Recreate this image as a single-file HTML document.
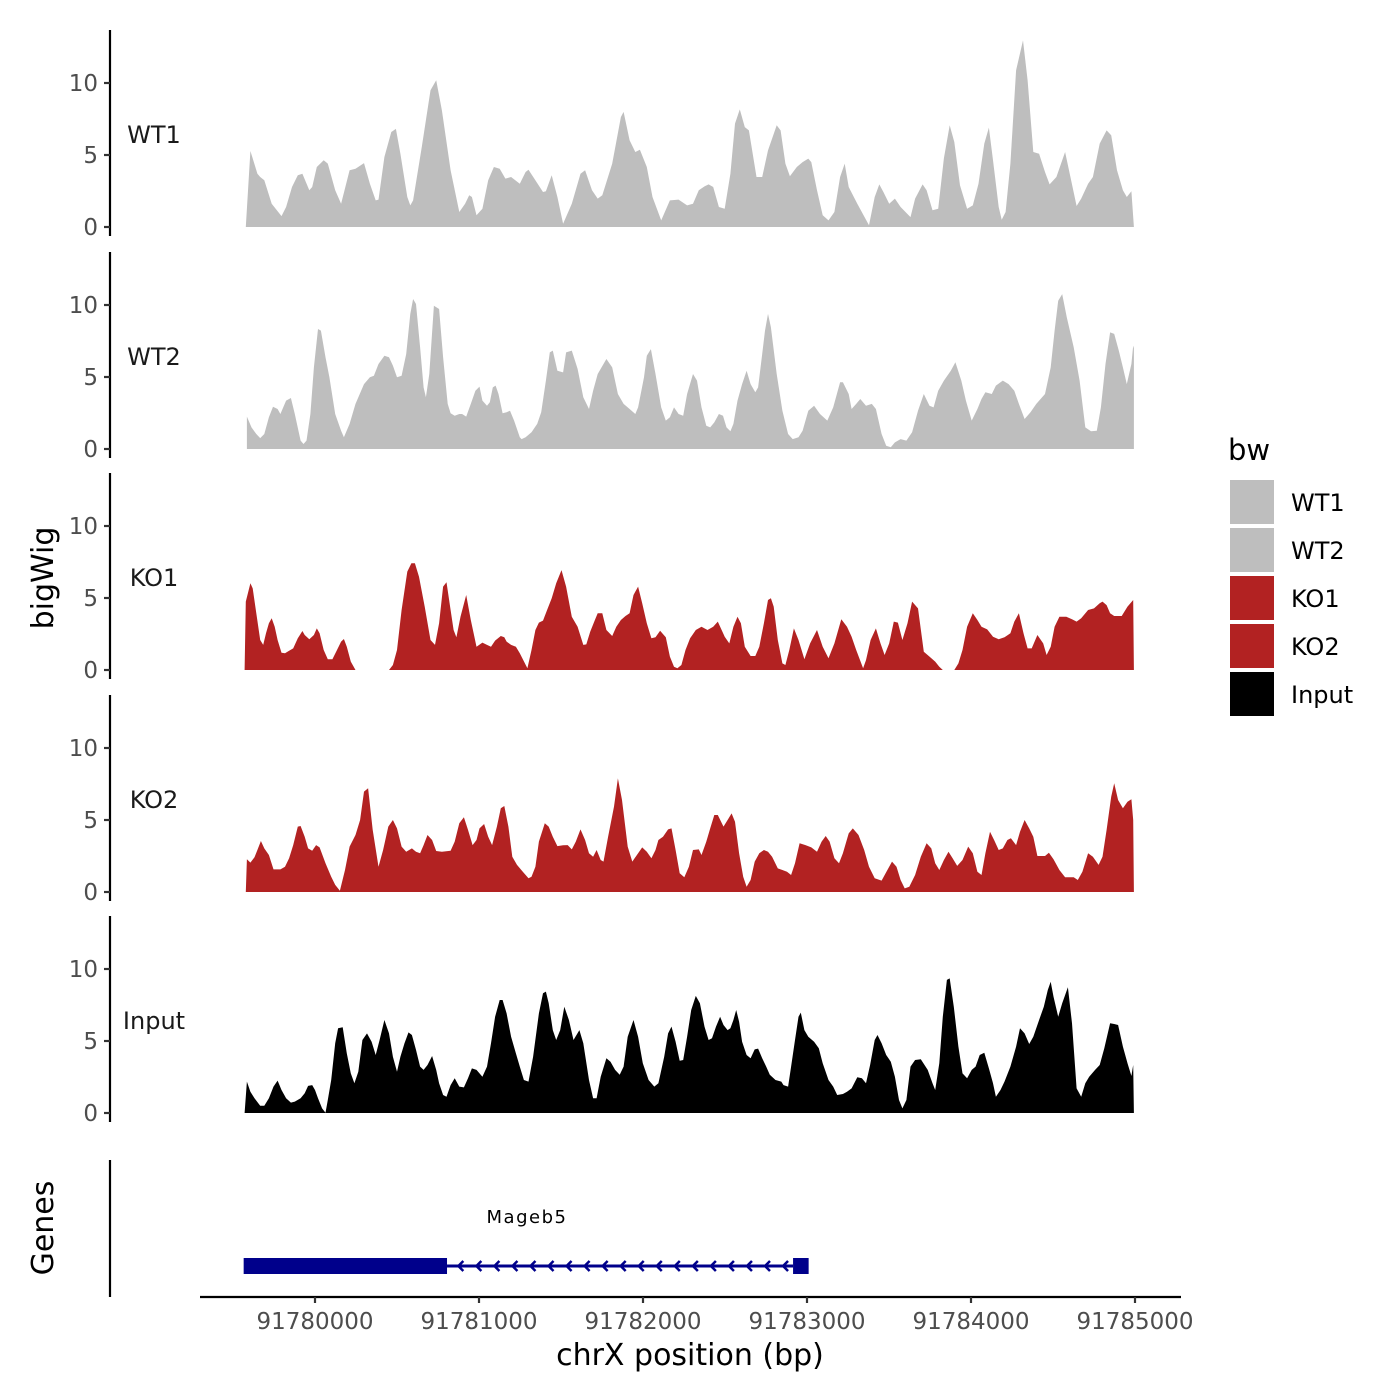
<!DOCTYPE html>
<html><head><meta charset="utf-8"><style>
html,body{margin:0;padding:0;background:#fff;}
svg{display:block;font-family:"DejaVu Sans","Liberation Sans",sans-serif;}
</style></head><body>
<svg id="chart" xmlns="http://www.w3.org/2000/svg" width="1400" height="1400" viewBox="0 0 1400 1400">
<rect x="0" y="0" width="1400" height="1400" fill="#fff"/>
<g id="panels"></g>
<text transform="translate(53,578) rotate(-90)" text-anchor="middle" font-size="30" fill="#000">bigWig</text>
<text transform="translate(53,1228) rotate(-90)" text-anchor="middle" font-size="30" fill="#000">Genes</text>
<line x1="110" y1="1160" x2="110" y2="1297" stroke="#000" stroke-width="2.2"/>
<g id="gene"></g>
<g id="xaxis"></g>
<text x="690" y="1365" text-anchor="middle" font-size="30" fill="#000">chrX position (bp)</text>
<g id="legend">
<text x="1228" y="460" font-size="29" fill="#000">bw</text>
</g>
</svg>
<script>
const base = 91779543;
const sampleNames = ["WT1","WT2","KO1","KO2","Input"];
const sampleColors = ["#BEBEBE","#BEBEBE","#B22222","#B22222","#000000"];
const yTicks = [0,5,10];
const xTicks = [91780000,91781000,91782000,91783000,91784000,91785000];

const wt1Pos = [35,63,106,123,148,193,253,281,317,352,380,422,440,468,510,535,580,616,668,704,756,792,827,844,880,922,950,978,1020,1038,1055,1108,1161,1196,1231,1284,1337,1372,1397,1414,1442,1478,1513,1548,1583,1618,1653,1706,1741,1759,1794,1847,1865,1900,1935,1970,2023,2076,2104,2146,2181,2209,2269,2322,2339,2375,2410,2438,2480,2515,2568,2621,2674,2726,2762,2797,2832,2857,2885,2920,2955,2990,3018,3047,3078,3103,3149,3184,3219,3272,3296,3325,3353,3395,3430,3465,3483,3518,3553,3588,3624,3659,3687,3711,3764,3835,3870,3898,3923,3958,3993,4028,4088,4116,4162,4186,4222,4257,4292,4327,4355,4390,4433,4468,4503,4538,4566,4591,4626,4644,4668,4697,4732,4774,4802,4837,4872,4908,4936,4978,5031,5101,5129,5171,5200,5242,5284,5312,5347,5383,5407,5435,5450];
const wt1Val = [0,5.28,3.70,3.47,3.24,1.62,0.76,1.39,2.78,3.59,3.70,2.55,2.78,4.17,4.63,4.40,2.55,1.62,3.94,4.05,4.44,3.01,1.85,1.90,4.86,6.60,6.81,5.09,2.08,1.50,1.85,5.56,9.49,10.19,8.10,3.94,1.04,1.62,2.20,2.08,0.81,1.27,3.24,4.17,4.05,3.36,3.47,3.01,3.82,3.98,3.36,2.43,2.48,3.59,2.08,0.23,1.62,3.70,3.94,2.55,1.97,2.20,4.40,7.64,7.99,6.02,5.21,5.37,4.17,2.08,0.46,1.85,1.90,1.50,1.62,2.55,2.82,2.96,2.78,1.39,1.27,3.70,7.18,8.17,6.94,6.71,3.47,3.47,5.32,7.06,6.71,4.40,3.52,4.17,4.51,4.75,4.51,2.55,0.81,0.46,1.04,3.47,4.40,2.78,1.62,0.12,2.08,2.96,2.43,1.62,1.97,1.39,0.69,1.97,2.96,2.55,1.16,1.27,4.77,7.06,5.90,2.89,1.27,1.50,3.01,5.79,6.90,4.63,1.39,0.51,1.04,4.40,10.88,12.96,10.19,5.21,5.09,3.82,2.96,3.47,5.21,1.46,1.97,3.01,3.47,5.79,6.71,6.37,3.94,2.55,2.08,2.48,0];

const wt2Pos = [42,70,99,123,148,176,201,229,246,281,310,334,369,387,405,429,450,475,493,521,545,580,616,633,668,704,756,792,816,844,880,908,932,957,985,1013,1038,1055,1073,1098,1119,1133,1154,1182,1214,1238,1266,1284,1309,1337,1354,1379,1407,1435,1460,1478,1506,1523,1541,1558,1576,1601,1625,1646,1671,1706,1717,1741,1777,1812,1836,1865,1889,1907,1935,1970,1988,2023,2058,2093,2128,2153,2181,2234,2269,2304,2339,2375,2410,2427,2463,2480,2505,2533,2568,2596,2621,2646,2674,2702,2726,2762,2786,2814,2843,2867,2892,2920,2945,2966,2990,3008,3033,3061,3089,3113,3142,3159,3184,3201,3219,3237,3272,3307,3342,3370,3405,3430,3465,3500,3536,3581,3617,3659,3676,3711,3729,3757,3782,3817,3852,3877,3912,3940,3968,3993,4028,4063,4098,4134,4169,4204,4229,4257,4292,4334,4362,4398,4426,4461,4496,4521,4545,4584,4609,4651,4686,4721,4749,4784,4820,4855,4908,4943,4967,4989,5013,5041,5083,5119,5154,5189,5224,5249,5277,5305,5330,5358,5383,5407,5435,5446,5450];
const wt2Val = [2.25,1.50,1.04,0.76,1.04,2.20,2.94,2.78,2.43,3.36,3.54,2.43,0.58,0.35,0.58,2.43,5.67,8.33,8.22,6.37,4.98,2.43,1.27,0.81,1.74,3.13,4.51,4.98,5.09,5.90,6.48,6.37,5.79,4.98,5.09,6.60,9.38,10.42,10.07,7.06,4.28,3.59,5.21,9.95,9.72,6.37,3.13,2.48,2.31,2.43,2.43,2.25,3.13,4.05,4.33,3.36,3.01,3.24,4.28,4.40,3.82,2.48,2.55,2.66,1.97,0.81,0.69,0.81,1.16,1.74,2.55,4.75,6.71,6.83,5.44,5.32,6.71,6.83,5.56,3.59,2.78,4.05,5.21,6.25,5.67,3.82,3.13,2.78,2.43,2.89,4.98,6.48,6.94,5.21,2.89,1.97,2.20,2.89,2.43,2.31,3.82,5.21,4.75,2.89,1.62,1.50,1.85,2.43,2.31,1.50,1.23,1.74,3.36,4.51,5.44,4.51,3.94,4.28,6.60,8.22,9.38,8.45,5.21,2.66,1.04,0.69,0.81,1.27,2.66,3.01,2.43,1.97,2.89,4.63,4.63,3.82,2.78,3.13,3.47,3.01,3.13,2.78,1.04,0.23,0.12,0.46,0.69,0.58,1.16,2.66,3.82,3.01,2.89,4.05,4.75,5.44,6.02,4.75,3.36,1.97,2.78,3.47,3.94,3.82,4.40,4.75,4.51,4.05,3.13,2.08,2.55,3.13,3.82,5.67,8.22,10.30,10.76,9.14,7.06,4.75,1.50,1.23,1.27,2.89,5.90,8.10,7.99,6.83,5.67,4.51,5.90,7.18,7.0,0];

const ko1Pos = [28,35,63,77,99,123,141,158,176,193,211,229,253,274,299,324,352,380,394,422,450,468,485,510,535,563,591,616,633,651,675,704,null,908,932,957,985,1020,1045,1066,1091,1126,1161,1189,1214,1238,1259,1284,1302,1319,1344,1379,1407,1442,1478,1506,1530,1555,1590,1611,1625,1653,1682,1706,1752,1777,1801,1822,1847,1872,1900,1928,1960,1988,2023,2058,2093,2111,2135,2164,2181,2209,2234,2269,2294,2322,2350,2375,2399,2427,2452,2480,2508,2533,2561,2596,2621,2646,2667,2691,2716,2744,2779,2814,2850,2885,2913,2955,2983,3008,3033,3054,3078,3113,3142,3166,3194,3219,3237,3254,3279,3307,3325,3349,3377,3405,3441,3476,3518,3553,3588,3624,3666,3701,3729,3757,3799,3817,3845,3877,3905,3930,3958,3986,4011,4039,4070,4098,4134,4169,4204,4239,4264,4285,null,4355,4380,4405,4433,4468,4496,4521,4556,4591,4626,4661,4697,4721,4749,4777,4802,4827,4862,4897,4918,4943,4967,4996,5038,5073,5101,5129,5171,5207,5242,5259,5284,5305,5330,5376,5411,5446,5450];
const ko1Val = [0,4.75,6.02,5.67,3.94,2.08,1.74,2.55,3.24,3.59,3.01,2.08,1.20,1.16,1.34,1.50,2.20,2.71,2.43,2.13,2.43,2.89,2.55,1.39,0.74,0.74,1.39,1.97,2.15,1.62,0.58,0,null,0,0.35,1.39,4.17,6.83,7.41,7.41,6.48,4.40,2.08,1.74,3.24,5.79,6.09,4.17,2.78,2.27,3.70,5.21,3.47,1.62,1.90,1.74,1.62,2.04,2.36,2.27,1.97,1.74,1.62,1.16,0.12,1.39,2.78,3.29,3.43,4.17,4.98,6.02,6.94,5.79,3.70,3.01,1.74,1.78,2.66,3.47,3.94,3.94,2.78,2.36,3.01,3.47,3.75,3.94,5.21,5.79,4.63,3.24,2.20,2.27,2.73,2.27,0.93,0.23,0.12,0.35,1.39,2.20,2.78,3.01,2.78,3.01,3.36,2.31,1.85,3.01,3.70,3.24,1.62,0.97,0.97,1.62,3.24,4.86,4.98,4.40,2.08,0.46,0.35,1.39,2.89,2.08,0.74,1.85,2.78,1.62,0.81,1.85,3.52,3.01,2.31,1.39,0.12,0.69,2.08,2.89,1.85,1.04,1.85,3.36,3.29,2.08,3.24,4.75,4.28,1.27,0.93,0.58,0.23,0,null,0,0.46,1.39,3.01,3.94,3.47,3.01,2.82,2.31,2.13,2.27,2.55,3.36,3.94,2.55,1.50,1.50,2.43,1.85,1.04,1.62,3.01,3.70,3.70,3.52,3.36,3.59,4.17,4.28,4.63,4.75,4.51,3.94,3.75,3.75,4.40,4.86,0];

const ko2Pos = [35,42,63,88,106,127,148,176,204,246,274,299,324,352,369,394,415,440,464,485,521,556,580,609,640,668,704,732,756,781,809,844,872,904,932,957,985,1013,1048,1073,1098,1119,1143,1171,1196,1231,1284,1309,1337,1365,1390,1418,1442,1460,1488,1513,1537,1566,1590,1611,1636,1660,1689,1724,1759,1777,1801,1822,1858,1882,1907,1935,1970,1998,2023,2047,2076,2104,2128,2153,2174,2199,2216,2244,2280,2304,2329,2364,2392,2420,2452,2480,2508,2533,2551,2579,2610,2631,2656,2681,2709,2737,2762,2797,2814,2843,2867,2892,2913,2948,2973,2997,3018,3043,3068,3089,3113,3138,3166,3194,3219,3244,3279,3307,3335,3360,3384,3412,3448,3483,3518,3546,3571,3595,3624,3652,3676,3711,3736,3771,3806,3835,3870,3912,3947,3975,4003,4028,4053,4081,4116,4151,4186,4215,4239,4264,4292,4320,4345,4373,4405,4440,4468,4496,4521,4545,4573,4598,4626,4651,4679,4700,4732,4756,4784,4812,4837,4862,4908,4932,4960,4996,5031,5083,5108,5136,5171,5200,5235,5259,5284,5312,5330,5354,5383,5411,5435,5446,5450];
const ko2Val = [0,2.27,2.04,2.41,2.92,3.54,3.03,2.57,1.57,1.57,1.76,2.34,3.26,4.54,4.58,3.84,3.03,2.87,3.26,3.10,1.99,1.06,0.49,0.09,1.53,3.15,3.96,5.00,6.97,7.20,4.31,1.76,2.92,4.54,5.00,4.42,3.15,2.80,3.03,2.80,2.69,3.26,3.96,3.61,2.85,2.80,2.87,3.50,4.77,5.19,4.31,3.26,3.61,4.42,4.72,3.84,3.26,4.54,5.81,5.97,4.54,2.45,1.88,1.41,0.95,1.06,1.76,3.50,4.77,4.54,3.84,3.19,3.24,3.26,2.96,3.50,4.35,3.61,2.69,2.45,2.92,2.22,2.11,3.84,5.93,7.89,6.39,3.15,2.11,2.57,3.10,2.80,2.34,2.92,3.61,3.84,4.35,4.42,2.92,1.30,1.02,1.76,2.92,2.96,2.57,3.50,4.42,5.35,5.35,4.54,5.00,5.46,4.88,2.69,1.06,0.37,0.83,2.11,2.69,2.92,2.80,2.45,1.64,1.53,1.41,1.18,1.99,3.38,3.26,3.10,2.80,3.50,3.89,3.50,2.34,1.99,2.69,4.07,4.42,3.96,2.92,1.76,0.95,0.79,1.53,2.11,1.76,0.83,0.25,0.37,1.18,2.45,3.38,3.03,1.99,1.53,2.22,2.80,2.34,1.81,2.22,3.15,2.69,1.41,1.18,2.69,4.19,3.61,2.92,3.03,3.61,3.73,3.26,4.19,5.00,4.42,3.84,2.50,2.50,2.73,2.27,1.53,1.02,1.02,0.83,1.41,2.69,2.45,1.88,2.45,4.31,6.62,7.55,6.39,5.81,6.27,6.44,5.00,0];

const inputPos = [28,42,63,88,123,148,176,204,229,253,281,310,334,369,394,415,440,457,475,500,521,535,556,580,598,626,651,675,697,721,746,774,802,827,851,880,908,932,957,978,1003,1027,1048,1073,1098,1119,1143,1171,1196,1214,1238,1259,1284,1309,1337,1365,1390,1414,1442,1478,1506,1530,1555,1583,1601,1625,1653,1682,1706,1731,1759,1787,1822,1847,1865,1882,1907,1928,1952,1977,2005,2033,2069,2093,2128,2153,2174,2199,2234,2259,2287,2315,2339,2364,2399,2427,2456,2491,2526,2551,2586,2610,2631,2656,2681,2702,2726,2751,2779,2804,2832,2857,2878,2902,2927,2948,2973,2990,3008,3025,3043,3061,3089,3113,3138,3159,3184,3208,3230,3265,3300,3314,3342,3360,3384,3405,3419,3441,3465,3500,3529,3553,3588,3617,3641,3676,3701,3729,3764,3792,3817,3842,3870,3887,3912,3940,3968,3993,4018,4039,4063,4088,4116,4151,4193,4222,4239,4264,4285,4310,4327,4352,4380,4405,4433,4461,4485,4510,4538,4566,4591,4609,4637,4661,4697,4732,4756,4784,4812,4837,4872,4901,4925,4943,4960,4989,5013,5048,5073,5101,5129,5154,5178,5214,5242,5270,5305,5330,5354,5383,5411,5435,5446,5450];
const inputVal = [0,2.18,1.48,1.02,0.51,0.51,1.02,1.83,2.25,1.60,1.02,0.72,0.79,1.02,1.37,1.88,1.94,1.60,1.02,0.32,0.02,0.90,2.29,4.84,5.88,5.95,4.14,2.75,2.06,2.87,5.07,5.53,4.95,4.03,5.07,6.46,5.53,3.91,2.87,3.91,4.84,5.60,5.42,4.38,3.22,2.99,3.33,3.96,2.99,2.06,1.25,1.13,1.94,2.41,1.83,1.78,2.41,3.10,2.99,2.52,3.22,4.84,6.69,7.85,7.85,6.92,5.30,4.14,3.22,2.29,2.18,3.91,6.92,8.31,8.43,7.62,5.76,5.07,5.76,7.38,6.46,5.07,5.76,4.84,2.29,1.02,1.02,2.52,3.80,3.56,2.99,2.66,3.22,5.30,6.46,5.30,3.45,2.29,1.83,2.06,3.91,5.53,6.00,4.95,3.63,3.68,5.30,7.15,8.13,7.62,6.00,5.07,5.19,6.00,6.69,6.11,5.76,5.88,6.46,7.15,6.34,4.95,4.03,3.80,4.42,4.47,3.80,3.22,2.66,2.29,2.18,1.94,1.83,3.22,5.07,6.69,6.97,5.76,5.30,4.95,4.49,3.45,2.29,1.83,1.25,1.32,1.48,1.71,2.48,2.41,2.06,3.33,5.07,5.42,4.84,4.03,3.56,2.52,0.90,0.32,0.90,3.22,3.68,3.73,2.99,2.06,1.60,3.45,6.69,9.24,9.35,7.38,4.61,2.75,2.41,2.99,3.22,4.03,4.19,3.10,2.06,1.13,1.60,2.18,3.22,4.61,5.88,5.53,4.79,5.30,6.46,7.38,8.54,9.12,8.08,6.69,7.62,8.73,6.23,1.71,1.13,2.06,2.52,2.99,3.33,4.49,6.23,6.18,6.11,4.61,3.45,2.57,3.33,0];

const trackPos = [wt1Pos, wt2Pos, ko1Pos, ko2Pos, inputPos];
const trackVal = [wt1Val, wt2Val, ko1Val, ko2Val, inputVal];

const NS = "http://www.w3.org/2000/svg";
const zeroY = [227, 449, 670, 892, 1113];
const unitPx = 14.4;
function xScale(bp){ return 315 + (bp - 91780000) * 0.164; }
function yScale(panel, v){ return zeroY[panel] - v * unitPx; }
function mk(tag, attrs, parent){
  const e = document.createElementNS(NS, tag);
  for (const k in attrs) e.setAttribute(k, attrs[k]);
  parent.appendChild(e);
  return e;
}

const panels = document.getElementById("panels");
for (let p = 0; p < 5; p++){
  const g = mk("g", {}, panels);
  
  
  const pos = trackPos[p], val = trackVal[p];
  let segs = [], cur = [];
  for (let i = 0; i < pos.length; i++){
    if (pos[i] === null){ if (cur.length) segs.push(cur); cur = []; continue; }
    cur.push([xScale(base + pos[i]), yScale(p, val[i])]);
  }
  if (cur.length) segs.push(cur);
  segs.forEach(function(s){
    let d = "M" + s[0][0].toFixed(1) + "," + zeroY[p];
    s.forEach(function(pt){ d += "L" + pt[0].toFixed(1) + "," + pt[1].toFixed(1); });
    d += "L" + s[s.length-1][0].toFixed(1) + "," + zeroY[p] + "Z";
    const a = mk("path", {d: d, fill: sampleColors[p], stroke: "none"}, g);
    
    
  });
  const ax = mk("line", {x1:110, y1: zeroY[p]-197, x2:110, y2: zeroY[p]+9, stroke:"#000", "stroke-width":2.2}, g);
  
  
  yTicks.forEach(function(t){
    const y = yScale(p, t);
    const tk = mk("line", {x1:104, y1:y, x2:110, y2:y, stroke:"#333", "stroke-width":2.2}, g);
    
    
    const tl = mk("text", {x:98, y:y+8, "text-anchor":"end", "font-size":23, fill:"#4d4d4d"}, g);
    tl.textContent = t;
    
    
  });
  const lab = mk("text", {x:154, y: zeroY[p]-84, "text-anchor":"middle", "font-size":24, fill:"#1a1a1a"}, g);
  lab.textContent = sampleNames[p];
  
  
}

// gene model
const gene = document.getElementById("gene");
const geneStart = 91779565, exon1End = 91780805, exon2Start = 91782915, geneEnd = 91783010;
const gy = 1266;
let gl = mk("line", {x1: xScale(exon1End), y1: gy, x2: xScale(exon2Start), y2: gy, stroke:"#00008B", "stroke-width":3}, gene);


let e1 = mk("rect", {x: xScale(geneStart), y: gy-8, width: xScale(exon1End)-xScale(geneStart), height:16, fill:"#00008B"}, gene);


let e2 = mk("rect", {x: xScale(exon2Start), y: gy-8, width: xScale(geneEnd)-xScale(exon2Start), height:16, fill:"#00008B"}, gene);


for (let bp = 91780880; bp < 91782900; bp += 110){
  const x = xScale(bp);
  const ar = mk("path", {d: "M"+(x+4)+","+(gy-5)+"L"+(x-1)+","+gy+"L"+(x+4)+","+(gy+5), fill:"none", stroke:"#00008B", "stroke-width":2.5}, gene);
  
  
}
let gn = mk("text", {x:527, y:1223, "text-anchor":"middle", "font-size":18, "letter-spacing":"1.5", fill:"#000"}, gene);
gn.textContent = "Mageb5";



// x axis
const xa = document.getElementById("xaxis");
let xl = mk("line", {x1:200, y1:1297, x2:1181, y2:1297, stroke:"#000", "stroke-width":2.2}, xa);


xTicks.forEach(function(t){
  const x = xScale(t);
  const tk = mk("line", {x1:x, y1:1297, x2:x, y2:1303, stroke:"#333", "stroke-width":2.2}, xa);
  
  
  const tl = mk("text", {x:x, y:1329, "text-anchor":"middle", "font-size":23, fill:"#4d4d4d"}, xa);
  tl.textContent = t;
  
  
});

// legend
const lg = document.getElementById("legend");
sampleNames.forEach(function(n, i){
  const y = 480 + i*48;
  const r = mk("rect", {x:1230, y:y, width:44, height:44, fill:sampleColors[i]}, lg);
  
  
  const t = mk("text", {x:1291, y:y+31, "font-size":24, fill:"#000"}, lg);
  t.textContent = n;
  
  
});
</script>
</body></html>
